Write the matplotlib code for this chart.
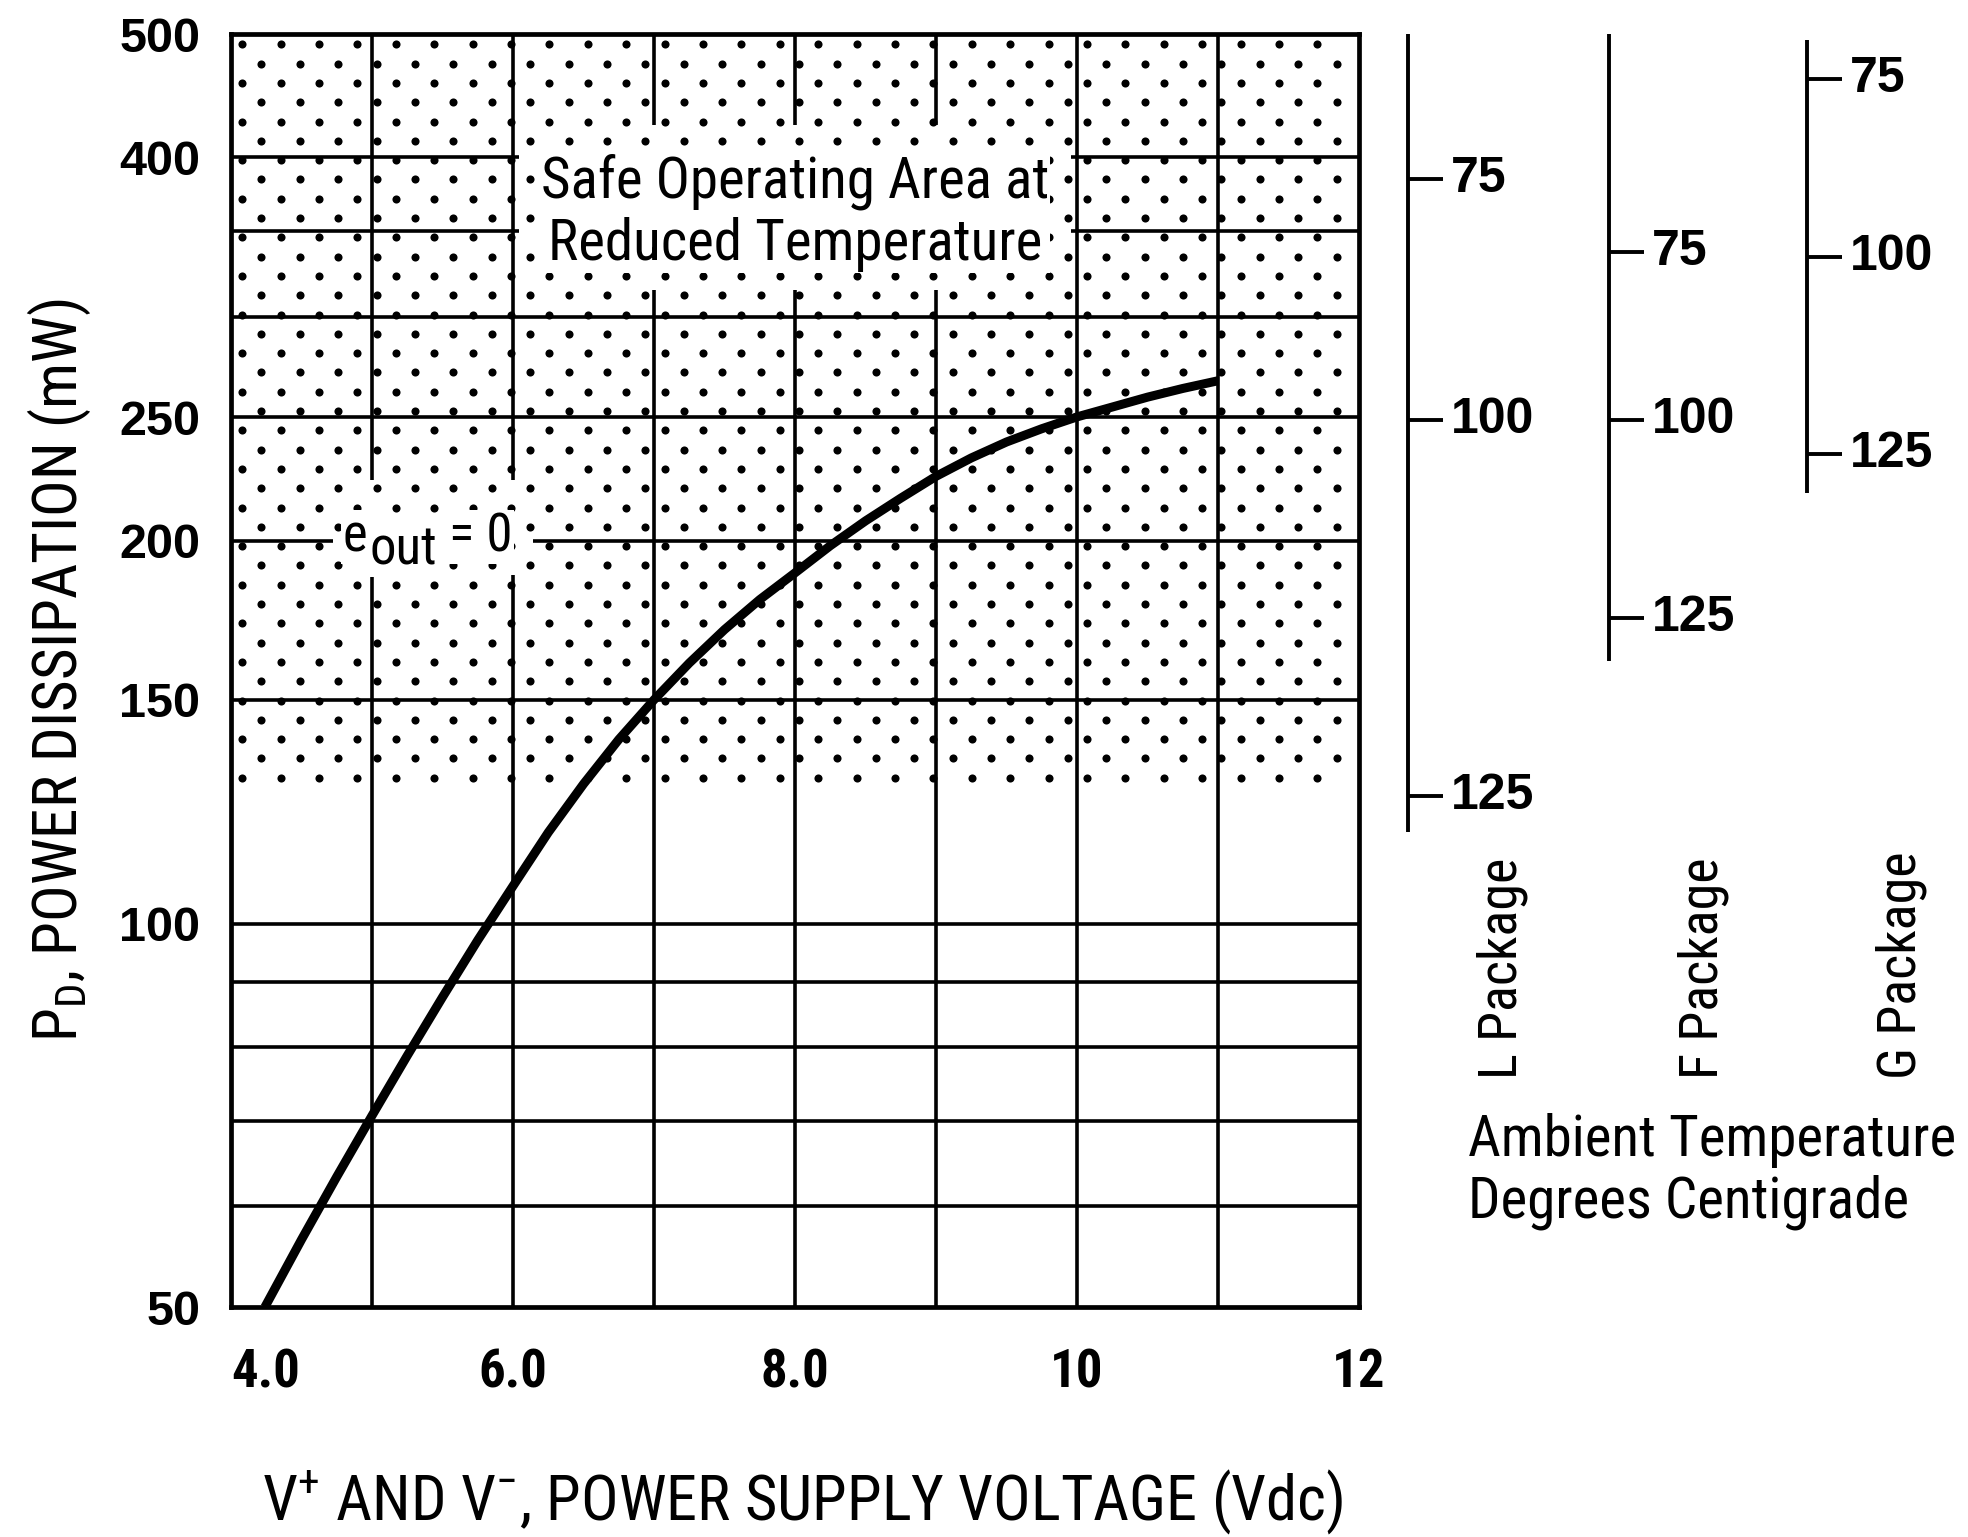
import numpy as np
import matplotlib
matplotlib.use("Agg")
import matplotlib.pyplot as plt
from matplotlib.patches import Rectangle
from matplotlib.transforms import blended_transform_factory

# Curva de disipación
voltage = [4.24, 4.5, 4.75, 5.0, 5.25, 5.5, 5.75, 6.0, 6.25, 6.5, 6.75, 7.0, 7.25, 7.5, 7.75,
           8.0, 8.25, 8.5, 8.75, 9.0, 9.25, 9.5, 9.75, 10.0, 10.25, 10.5, 10.75, 11.0]
power = [50, 56.5, 63.3, 70.7, 78.8, 87.6, 97.1, 107.1, 118.0, 128.8, 139.6, 150, 160.3, 170.3, 179.8,
         188.7, 198.2, 207.3, 216.0, 224.7, 232.3, 239.1, 244.9, 250.2, 254.7, 259.3, 263.4, 267.1]

# Ejes y rejilla
x_ticks = [4, 6, 8, 10, 12]
x_ticklabels = ["4.0", "6.0", "8.0", "10", "12"]
y_ticks = [50, 100, 150, 200, 250, 400, 500]
grid_v = [5, 6, 7, 8, 9, 10, 11]
grid_p = [60, 70, 80, 90, 100, 150, 200, 250, 300, 350, 400]

# Zona punteada (área segura a temperatura reducida)
shade_floor = 128

# Huecos en la rejilla detrás de los textos
box_gap_x = (6.04, 9.96)
box_gap_p = (315, 424)
eout_gap_x = (4.72, 6.14)
eout_gap_p = (188, 223)

# Escalas de temperatura ambiente por encapsulado
packages = ["L Package", "F Package", "G Package"]
pkg_temps = [75, 100, 125]
pkg_power = [[385, 249, 126], [337, 249, 174], [461, 334, 234]]
pkg_range = [(118, 500), (161, 500), (218, 495)]
pkg_xpos = [0.7154, 0.8176, 0.9182]

cond = "Roboto Condensed"
bold = "Liberation Sans"
plt.rcParams["mathtext.fontset"] = "custom"
plt.rcParams["mathtext.rm"] = cond
plt.rcParams["mathtext.it"] = cond + ":italic"
plt.rcParams["mathtext.bf"] = cond + ":bold"

fig = plt.figure(figsize=(19.68, 15.37), dpi=100)
ax = fig.add_axes([0.1174, 0.1496, 0.5732, 0.8282])
ax.set_yscale("log")
ax.set_xlim(4, 12)
ax.set_ylim(50, 500)

lw_grid = 2.6
for p in grid_p:
    ax.plot([4, 12], [p, p], color="black", lw=lw_grid, zorder=1, solid_capstyle="butt")
for v in grid_v:
    ax.plot([v, v], [50, 500], color="black", lw=lw_grid, zorder=1, solid_capstyle="butt")

for gx, gp in [(box_gap_x, box_gap_p), (eout_gap_x, eout_gap_p)]:
    ax.add_patch(Rectangle((gx[0], gp[0]), gx[1] - gx[0], gp[1] - gp[0],
                           facecolor="white", edgecolor="none", zorder=1.5))

# textura de puntos en coordenadas de ejes
y_floor = np.log10(shade_floor / 50)
dx = 38.4 / 1128
dy = 19.3 / 1273
xs, ys = [], []
for i, yy in enumerate(np.arange(y_floor + dy / 2, 0.997, dy)):
    start = 0.0098 + (dx / 2 if i % 2 else 0)
    for xx in np.arange(start, 0.996, dx):
        xs.append(xx)
        ys.append(yy)
ax.scatter(xs, ys, s=34, color="black", linewidths=0, transform=ax.transAxes, zorder=2)

ax.plot(voltage, power, color="black", lw=6.5, zorder=4,
        solid_joinstyle="round", solid_capstyle="butt")

white = dict(facecolor="white", edgecolor="none", pad=1)
ax.text(8.0, 362, "Safe Operating Area at\nReduced Temperature", ha="center", va="center",
        fontsize=41, family=cond, linespacing=1.15, zorder=5, bbox=white)

# e_out = 0, con el subíndice casi del mismo tamaño
renderer = fig.canvas.get_renderer()
eout_kw = dict(fontsize=38, family=cond, va="baseline", ha="left", zorder=5, bbox=white)
t_e = ax.text(4.79, 196, "e", **eout_kw)
w_e = t_e.get_window_extent(renderer).width * 72 / fig.dpi
t_out = ax.annotate("out", xy=(4.79, 196), xytext=(w_e + 2, -9), textcoords="offset points", **eout_kw)
w_out = t_out.get_window_extent(renderer).width * 72 / fig.dpi
ax.annotate("= 0", xy=(4.79, 196), xytext=(w_e + w_out + 10, 0), textcoords="offset points", **eout_kw)

for s in ax.spines.values():
    s.set_linewidth(3.4)
    s.set_zorder(6)

ax.set_xticks(x_ticks)
ax.set_xticklabels(x_ticklabels, family=cond, fontsize=38, fontweight="bold")
ax.get_xticklabels()[0].set_ha("left")
ax.set_yticks(y_ticks)
ax.set_yticklabels([str(t) for t in y_ticks], family=bold, fontsize=35, fontweight="bold")
ax.yaxis.set_minor_locator(matplotlib.ticker.NullLocator())
ax.tick_params(axis="both", which="both", length=0)
ax.tick_params(axis="x", pad=29)
ax.tick_params(axis="y", pad=22)

ax.set_xlabel(r"V$^{+}$ AND V$^{-}$, POWER SUPPLY VOLTAGE (Vdc)", family=cond, fontsize=45)
ax.xaxis.set_label_coords(0.507, -0.153)
ax.xaxis.label.set_va("center")
ax.set_ylabel(r"P$_{\mathrm{D}}$, POWER DISSIPATION (mW)", family=cond, fontsize=44)
ax.yaxis.set_label_coords(-0.1525, 0.5)
ax.yaxis.label.set_va("center")

# escalas de la derecha
trans = blended_transform_factory(fig.transFigure, ax.transData)
tick_len = 35 / 1968
for name, pw, rng, xp in zip(packages, pkg_power, pkg_range, pkg_xpos):
    ax.plot([xp, xp], rng, color="black", lw=2.8, transform=trans, clip_on=False,
            solid_capstyle="butt")
    for t, p in zip(pkg_temps, pw):
        ax.plot([xp, xp + tick_len], [p, p], color="black", lw=2.8, transform=trans,
                clip_on=False, solid_capstyle="butt")
        ax.text(xp + tick_len + 0.004, p, str(t), transform=trans, ha="left", va="center",
                family=bold, fontsize=36, fontweight="bold")
    fig.text(xp + 0.048, 0.298, name, rotation=90, ha="center", va="bottom",
             family=cond, fontsize=39)

fig.text(0.746, 0.2375, "Ambient Temperature\nDegrees Centigrade", ha="left", va="center",
         family=cond, fontsize=41, linespacing=1.15)

fig.savefig("out.png", dpi=100)
